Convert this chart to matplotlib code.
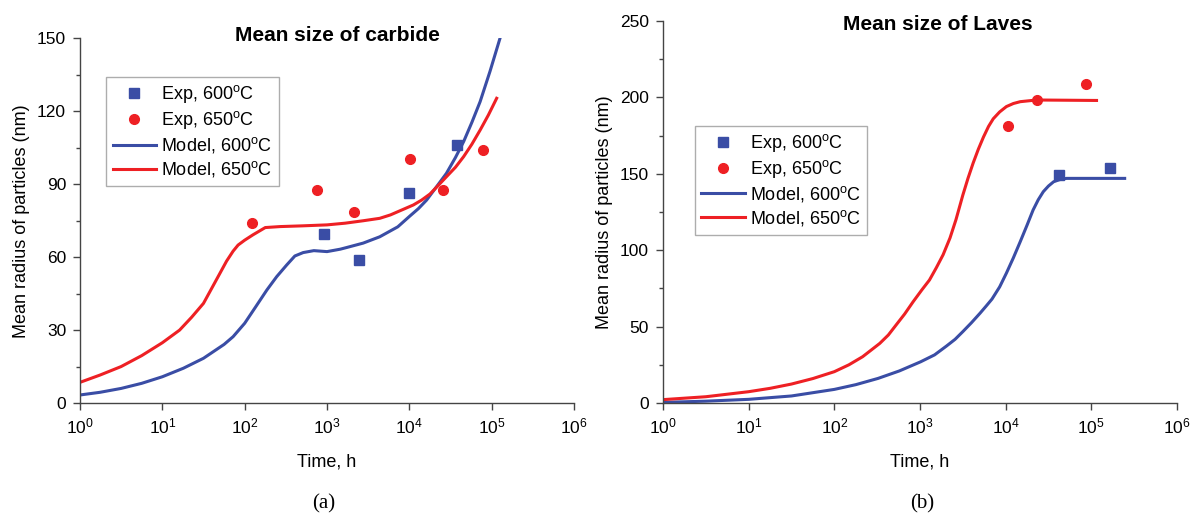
import matplotlib.pyplot as plt
from matplotlib.ticker import FixedLocator, MultipleLocator, NullLocator

plt.rcParams['font.family'] = ['Liberation Sans', 'DejaVu Sans']
plt.rcParams['mathtext.fontset'] = 'custom'
plt.rcParams['mathtext.rm'] = 'Liberation Sans'
plt.rcParams['mathtext.it'] = 'Liberation Sans:italic'

BLUE = '#3A4DA5'
RED = '#EE2024'

# (a) carbide
carb_exp600_t = [912, 2450, 10000, 37600]
carb_exp600_r = [69.5, 58.8, 86.3, 106.2]
carb_exp650_t = [124, 760, 2130, 10200, 25400, 77700]
carb_exp650_r = [74, 87.7, 78.7, 100.4, 87.7, 104]

carb_mod600_t = [1, 1.75, 3.16, 5.62, 10, 18, 31.6, 56.2, 72.4, 100, 135, 186,
                 245, 324, 407, 513, 692, 1000, 1450, 1740, 2750, 4370, 7240,
                 10200, 12900, 16200, 21400, 28200, 36300, 45700, 57500, 72400,
                 95500, 126000]
carb_mod600_r = [3.3, 4.4, 6, 8.1, 10.8, 14.3, 18.4, 24.1, 27.3, 32.8, 39.4, 46.5,
                 52, 56.8, 60.5, 61.9, 62.7, 62.3, 63.3, 64, 65.8, 68.4, 72.5,
                 77, 80, 83.5, 89, 94.5, 101, 107.6, 115.5, 124,
                 136.5, 150]
carb_mod650_t = [1, 1.75, 3.16, 5.62, 10, 16.2, 22.7, 31.6, 39.8, 50.1, 60.3, 72.4,
                 83.2, 100, 126, 178, 269, 501, 1000, 1660, 2750, 4370, 5890,
                 11200, 14100, 17800, 22400, 28200, 36300, 45700, 57500, 72400,
                 91200, 115000]
carb_mod650_r = [8.5, 11.5, 15, 19.5, 24.8, 30, 35.3, 41, 47.2, 53.4, 58.4, 62.5,
                 65, 67, 69.2, 72.2, 72.6, 72.9, 73.3, 74, 75, 76, 77.4,
                 81.5, 83.5, 86, 89.5, 93.1, 97, 101.4, 106.5, 112.3,
                 118.5, 125.4]

# (b) Laves
lav_exp600_t = [41800, 164000]
lav_exp600_r = [149.2, 154]
lav_exp650_t = [10700, 23000, 85800]
lav_exp650_r = [181.5, 198.3, 208.5]

lav_mod600_t = [1, 3.16, 10, 31.6, 100, 178, 324, 575, 1020, 1480, 2040, 2570,
                3160, 3980, 5010, 5890, 6920, 8510, 10200, 12300, 14800, 17800,
                20900, 24000, 27500, 31600, 36300, 42700, 51300, 245000]
lav_mod600_r = [0.4, 1.2, 2.4, 4.6, 8.9, 12, 16.1, 21, 27, 31.5, 37.3, 41.7,
                46.7, 52.5, 58.7, 63.3, 68, 76, 85, 95, 105.6, 116.5,
                126.3, 133, 138.3, 142, 144.8, 146.2, 147, 147]
lav_mod650_t = [1, 3.16, 10, 17.8, 31.6, 56.2, 100, 148, 214, 339, 427, 525,
                661, 832, 1050, 1290, 1550, 1860, 2240, 2630, 3160, 3630, 4170,
                4790, 5500, 6310, 7160, 8510, 10200, 12300, 14800, 22900, 115000]
lav_mod650_r = [2.2, 4.1, 7.4, 9.6, 12.4, 16, 20.5, 25, 30.3, 39, 44.5, 51,
                58.2, 66.3, 74, 80.5, 88.5, 97, 108, 120, 136, 147, 157,
                166, 174, 181, 186, 190.5, 194, 196, 197.2, 198.3, 198]

time_ticks = [1e0, 1e1, 1e2, 1e3, 1e4, 1e5, 1e6]

labels = ['Exp, 600$^\\mathrm{o}$C', 'Exp, 650$^\\mathrm{o}$C',
          'Model, 600$^\\mathrm{o}$C', 'Model, 650$^\\mathrm{o}$C']


def draw_panel(ax, exp600, exp650, mod600, mod650, ymax, ystep, title, title_x, title_y, leg_anchor):
    ax.plot(exp600[0], exp600[1], 's', color=BLUE, ms=6.5, ls='none', label=labels[0])
    ax.plot(exp650[0], exp650[1], 'o', color=RED, ms=7, ls='none', label=labels[1])
    ax.plot(mod600[0], mod600[1], '-', color=BLUE, lw=2.2, label=labels[2])
    ax.plot(mod650[0], mod650[1], '-', color=RED, lw=2.2, label=labels[3])
    ax.set_xscale('log')
    ax.set_xlim(1, 1e6)
    ax.set_ylim(0, ymax)
    ax.xaxis.set_major_locator(FixedLocator(time_ticks))
    ax.xaxis.set_minor_locator(NullLocator())
    ax.yaxis.set_major_locator(MultipleLocator(ystep))
    ax.yaxis.set_minor_locator(MultipleLocator(ystep / 2))
    ax.spines['top'].set_visible(False)
    ax.spines['right'].set_visible(False)
    for s in ('left', 'bottom'):
        ax.spines[s].set_color('#444444')
        ax.spines[s].set_linewidth(1.0)
    ax.tick_params(which='major', direction='out', length=5, width=1, labelsize=12.5,
                   color='#444444', pad=5)
    ax.tick_params(which='minor', direction='out', length=3, width=1, color='#444444')
    ax.set_xlabel('Time, h', fontsize=13, labelpad=12)
    ax.set_ylabel('Mean radius of particles (nm)', fontsize=13, labelpad=5)
    ax.text(title_x, title_y, title, transform=ax.transAxes, ha='center', va='center',
            fontsize=15, fontweight='bold')
    leg = ax.legend(loc='upper left', bbox_to_anchor=leg_anchor, fontsize=13,
                    frameon=True, fancybox=False, edgecolor='#999999',
                    handlelength=2.4, handletextpad=0.3, labelspacing=0.22,
                    borderpad=0.35, borderaxespad=0)
    leg.get_frame().set_linewidth(1.0)


fig = plt.figure(figsize=(11.93, 5.17), dpi=100)
ax1 = fig.add_axes([80 / 1193, 114 / 517, 494 / 1193, 364.5 / 517])
ax2 = fig.add_axes([663 / 1193, 114 / 517, 514 / 1193, 382 / 517])

draw_panel(ax1, (carb_exp600_t, carb_exp600_r), (carb_exp650_t, carb_exp650_r),
           (carb_mod600_t, carb_mod600_r), (carb_mod650_t, carb_mod650_r),
           150, 30, 'Mean size of carbide', 0.521, 1.007, (0.053, 0.894))
draw_panel(ax2, (lav_exp600_t, lav_exp600_r), (lav_exp650_t, lav_exp650_r),
           (lav_mod600_t, lav_mod600_r), (lav_mod650_t, lav_mod650_r),
           250, 50, 'Mean size of Laves', 0.534, 0.991, (0.062, 0.725))

fig.text(324 / 1193, 1 - 504 / 517, '(a)', ha='center', va='center', fontsize=15,
         family='Liberation Serif')
fig.text(922 / 1193, 1 - 504 / 517, '(b)', ha='center', va='center', fontsize=15,
         family='Liberation Serif')

fig.savefig('out.png', dpi=100)
